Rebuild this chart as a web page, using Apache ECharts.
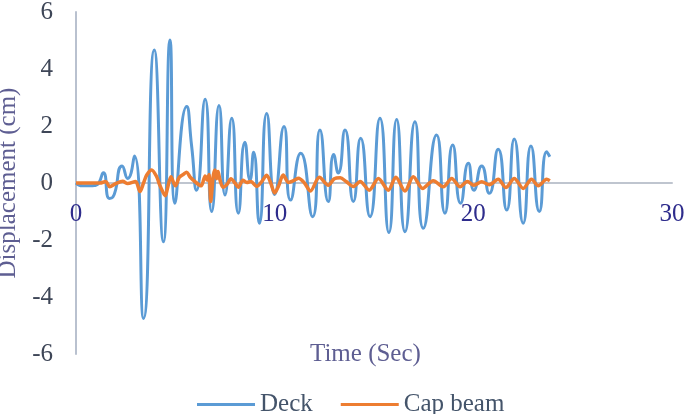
<!DOCTYPE html>
<html>
<head>
<meta charset="utf-8">
<script src="https://cdn.jsdelivr.net/npm/echarts@6/dist/echarts.min.js"></script>
<style>
	html, body { margin: 0; padding: 0; background: #fff; }
	#chart { width: 685px; height: 414px; }
</style>
</head>
<body>
<div id="chart"></div>
<script>
// values (time in sec, displacement in cm)
var deckTime = [0, 0.33, 0.7, 1.0, 1.15, 1.38, 1.68, 1.85, 2.32, 2.6, 2.94, 3.4, 3.94, 4.4, 4.73, 4.98, 5.57, 5.82, 6.07, 6.5, 6.83, 7.2, 7.5, 7.84, 8.17, 8.5, 8.76, 8.94, 9.23, 9.6, 10.0, 10.47, 10.8, 11.31, 11.91, 12.28, 12.7, 12.97, 13.2, 13.54, 13.96, 14.33, 14.8, 15.3, 15.75, 16.14, 16.56, 17.06, 17.48, 18.15, 18.57, 18.96, 19.36, 19.75, 20.03, 20.42, 20.8, 21.25, 21.68, 22.06, 22.51, 22.9, 23.32, 23.69, 23.85];
var deckValue = [0, -0.1, -0.1, -0.08, 0, 0.36, -0.54, -0.5, 0.6, 0.16, 0.95, -4.75, 4.67, -2.06, 5.02, -0.71, 2.68, 1.3, -0.25, 2.94, -1.0, 2.72, -0.42, 2.27, -1.06, 1.43, 0.1, 1.08, -1.41, 2.44, -0.4, 1.98, -0.6, 1.04, -1.18, 1.86, -0.65, 1.0, 0.35, 1.86, -0.65, 1.57, -1.18, 2.27, -1.74, 2.23, -1.71, 2.15, -1.59, 1.68, -1.06, 1.33, -0.71, 0.69, -0.25, 0.6, -0.36, 1.18, -0.95, 1.54, -1.41, 1.3, -1.0, 1.1, 0.92];

var capTime = [0, 1.2, 1.5, 1.7, 2.0, 2.35, 2.6, 3.0, 3.22, 3.4, 3.56, 3.81, 4.06, 4.2, 4.4, 4.5, 4.6, 4.78, 5.0, 5.2, 5.4, 5.57, 5.75, 6.07, 6.3, 6.5, 6.6, 6.7, 6.78, 6.85, 6.92, 7.0, 7.08, 7.15, 7.25, 7.4, 7.6, 7.8, 8.0, 8.17, 8.4, 8.6, 8.8, 9.1, 9.35, 9.6, 9.8, 10.0, 10.2, 10.43, 10.7, 11.0, 11.2, 11.5, 11.8, 12.25, 12.7, 13.0, 13.3, 13.6, 13.96, 14.3, 14.76, 15.22, 15.72, 16.1, 16.56, 16.98, 17.45, 17.98, 18.49, 18.91, 19.33, 19.7, 20.03, 20.42, 20.8, 21.25, 21.64, 22.06, 22.51, 22.93, 23.27, 23.69, 23.85];
var capValue = [0, 0, 0.05, -0.13, -0.02, 0.06, -0.02, 0.05, -0.3, 0, 0.28, 0.46, 0.22, -0.05, -0.35, -0.45, -0.2, 0.22, -0.1, 0.2, 0.3, 0.38, 0.2, 0, -0.1, 0.25, 0.1, 0.3, -0.65, -0.2, 0.3, 0.46, 0.15, 0.4, 0.1, -0.15, -0.05, 0.15, 0, -0.15, 0.1, 0.02, 0.05, -0.12, 0.05, 0.27, 0, -0.35, -0.1, 0.28, 0.02, 0.1, 0.17, 0, -0.28, 0.2, -0.08, 0.15, 0.18, 0.05, -0.12, 0.05, -0.25, 0.16, -0.25, 0.2, -0.28, 0.22, -0.19, 0.08, -0.13, 0.16, -0.13, 0.05, -0.08, 0.04, -0.06, 0.13, -0.16, 0.16, -0.19, 0.13, -0.1, 0.13, 0.08];

var xTicks = [0, 30, 10];   // min, max, interval
var yTicks = [-6, 6, 2];

function pairs(t, v) {
	var out = [];
	for (var i = 0; i < t.length; i++) out.push([t[i], v[i]]);
	return out;
}

var font = 'Liberation Serif';
var chart = echarts.init(document.getElementById('chart'));
chart.setOption({
	animation: false,
	grid: { left: 76, right: 13, top: 12, bottom: 60, outerBoundsMode: 'none', containLabel: false },
	legend: {
		left: 192,
		top: 387,
		icon: 'rect',
		itemWidth: 58,
		itemHeight: 3,
		itemGap: 28,
		textStyle: { fontFamily: font, fontSize: 25, color: '#44546A' },
		data: ['Deck', 'Cap beam']
	},
	graphic: [{
		type: 'text',
		left: 310,
		top: 342,
		style: { text: 'Time (Sec)', font: '25px "Liberation Serif"', fill: '#5E5E92' }
	}],
	xAxis: {
		type: 'value',
		min: xTicks[0], max: xTicks[1], interval: xTicks[2],
		offset: -171,   // sit on the zero line like the original
		axisLine: { onZero: false, lineStyle: { color: '#BFC5CF', width: 2 } },
		axisTick: { show: false },
		splitLine: { show: false },
		axisLabel: { margin: 19, fontFamily: font, fontSize: 25, color: '#2E2C8C' }
	},
	yAxis: {
		type: 'value',
		min: yTicks[0], max: yTicks[1], interval: yTicks[2],
		name: 'Displacement (cm)',
		nameLocation: 'middle',
		nameGap: 45,
		nameTextStyle: { fontFamily: font, fontSize: 25, color: '#5E5E92' },
		axisLine: { show: true, lineStyle: { color: '#B9C1CF', width: 2 } },
		axisTick: { show: false },
		splitLine: { show: false },
		axisLabel: { margin: 23, fontFamily: font, fontSize: 25, color: '#3E4657' }
	},
	series: [{
		name: 'Deck',
		type: 'line',
		data: pairs(deckTime, deckValue),
		smooth: 0.6,
		symbol: 'none',
		lineStyle: { color: '#5B9BD5', width: 3 },
		itemStyle: { color: '#5B9BD5' }
	}, {
		name: 'Cap beam',
		type: 'line',
		data: pairs(capTime, capValue),
		smooth: 0.3,
		symbol: 'none',
		lineStyle: { color: '#ED7D31', width: 3.5 },
		itemStyle: { color: '#ED7D31' }
	}]
});
</script>
</body>
</html>
